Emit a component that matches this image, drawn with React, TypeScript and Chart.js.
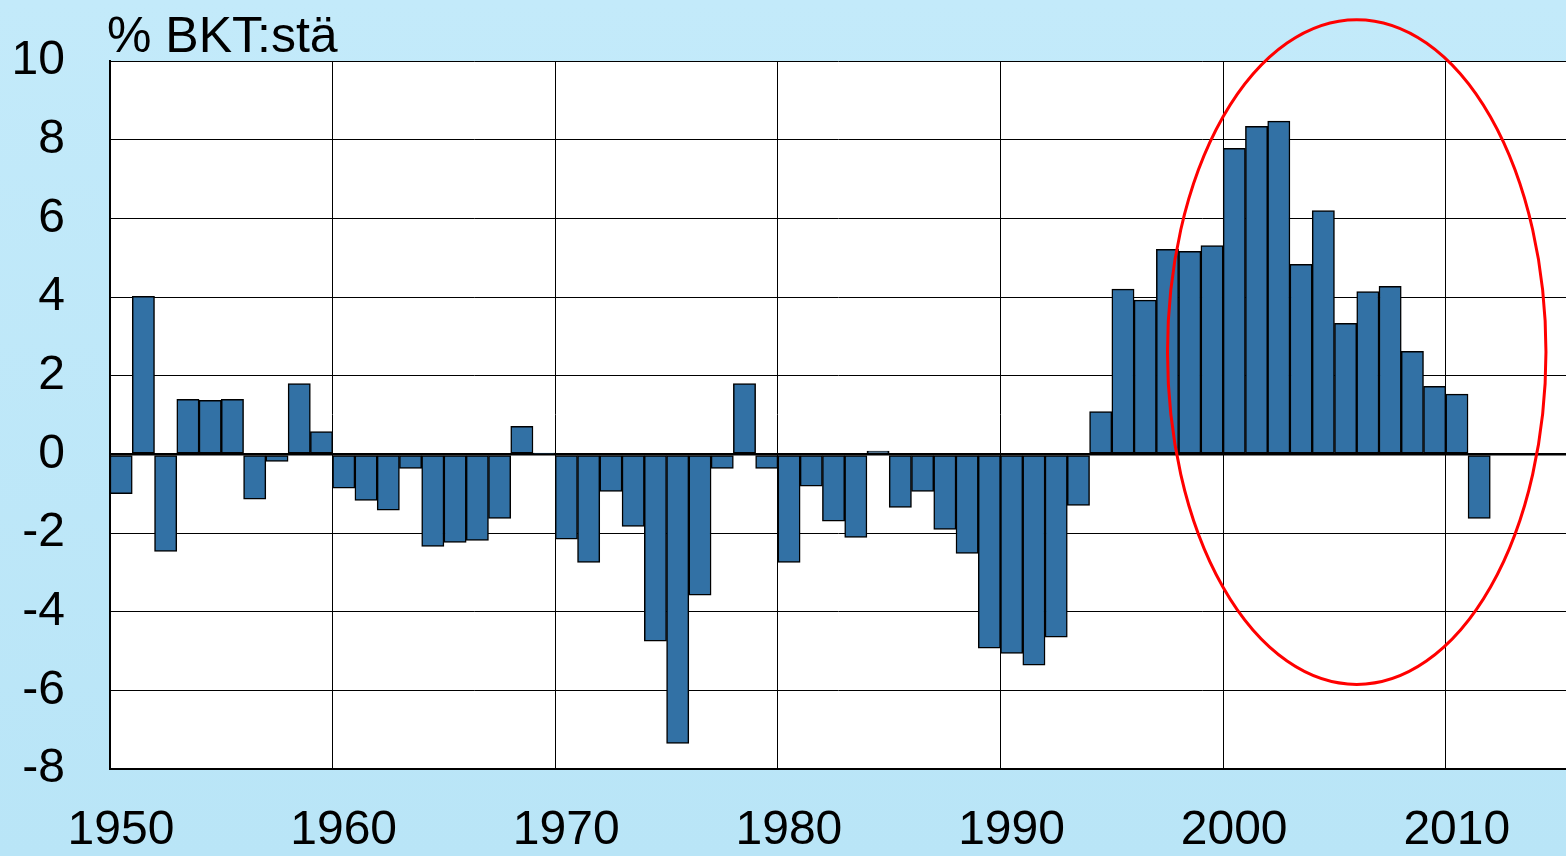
import React, { useEffect, useRef } from "react";
import { Chart, registerables } from "chart.js";

Chart.register(...registerables);

// Years 1950 ... 2011 (one bar per year)
const START_YEAR = 1950;
const BALANCE_VALUES: number[] = [
  -1.0, 4.02, -2.47, 1.4, 1.37, 1.4, -1.14, -0.18, 1.8, 0.58,
  -0.86, -1.17, -1.42, -0.36, -2.34, -2.24, -2.19, -1.63, 0.71, 0.03,
  -2.16, -2.75, -0.94, -1.83, -4.75, -7.35, -3.58, -0.36, 1.8, -0.36,
  -2.75, -0.81, -1.7, -2.11, 0.08, -1.35, -0.94, -1.91, -2.52, -4.93,
  -5.06, -5.36, -4.65, -1.3, 1.09, 4.2, 3.92, 5.21, 5.16, 5.31,
  7.78, 8.34, 8.47, 4.83, 6.2, 3.33, 4.14, 4.27, 2.62, 1.73,
  1.53, -1.63,
];
const YEARS: number[] = BALANCE_VALUES.map((_, i) => START_YEAR + i);
const X_TICKS: number[] = [1950, 1960, 1970, 1980, 1990, 2000, 2010];
const X_MIN = 1950;
const X_MAX = 2015.4;
const Y_MIN = -8;
const Y_MAX = 10;
const Y_STEP = 2;
const UNIT_LABEL = "% BKT:stä";

// Red highlight ellipse (in data units)
const ELLIPSE_CENTER_YEAR = 2006;
const ELLIPSE_CENTER_VALUE = 2.6;
const ELLIPSE_HALF_WIDTH_YEARS = 8.5;
const ELLIPSE_HALF_HEIGHT_VALUE = 8.45;

const FONT_FAMILY = "'Liberation Sans', Arial, sans-serif";
const BAR_COLOR = "#3271a5";

const W = 1566;
const H = 856;

export default function App() {
  const ref = useRef<HTMLCanvasElement | null>(null);

  useEffect(() => {
    document.body.style.margin = "0";
    const canvas = ref.current;
    if (!canvas) return;

    const backgroundPlugin = {
      id: "bgPlugin",
      beforeDraw(chart: any) {
        const { ctx, chartArea } = chart;
        ctx.save();
        const g = ctx.createLinearGradient(0, 0, 0, H);
        g.addColorStop(0, "#c3eafa");
        g.addColorStop(1, "#b9e5f7");
        ctx.fillStyle = g;
        ctx.fillRect(0, 0, W, H);
        ctx.fillStyle = "#ffffff";
        ctx.fillRect(
          chartArea.left,
          chartArea.top,
          chartArea.right - chartArea.left,
          chartArea.bottom - chartArea.top
        );
        ctx.restore();
      },
    };

    const overlayPlugin = {
      id: "overlayPlugin",
      afterDraw(chart: any) {
        const { ctx, chartArea, scales } = chart;
        const xs = scales.x;
        const ys = scales.y;
        ctx.save();
        // unit label
        ctx.fillStyle = "#000";
        ctx.font = `50px ${FONT_FAMILY}`;
        ctx.textAlign = "left";
        ctx.textBaseline = "alphabetic";
        ctx.fillText(UNIT_LABEL, chartArea.left - 3, chartArea.top - 9);
        // ellipse
        const cx = xs.getPixelForValue(ELLIPSE_CENTER_YEAR);
        const cy = ys.getPixelForValue(ELLIPSE_CENTER_VALUE);
        const rx = Math.abs(
          xs.getPixelForValue(ELLIPSE_CENTER_YEAR + ELLIPSE_HALF_WIDTH_YEARS) - cx
        );
        const ry = Math.abs(
          ys.getPixelForValue(ELLIPSE_CENTER_VALUE + ELLIPSE_HALF_HEIGHT_VALUE) - cy
        );
        ctx.beginPath();
        ctx.ellipse(cx, cy, rx, ry, 0, 0, Math.PI * 2);
        ctx.strokeStyle = "#ff0000";
        ctx.lineWidth = 3;
        ctx.stroke();
        ctx.restore();
      },
    };

    const chart = new Chart(canvas, {
      type: "bar",
      data: {
        datasets: [
          {
            data: YEARS.map((y, i) => ({ x: y + 0.5, y: BALANCE_VALUES[i] })),
            backgroundColor: BAR_COLOR,
            borderColor: "#000000",
            borderWidth: 1.5,
            borderSkipped: false,
            barPercentage: 1,
            categoryPercentage: 1,
          },
        ],
      },
      options: {
        responsive: false,
        animation: false,
        events: [],
        layout: { padding: { top: 61, right: 0, bottom: 0, left: 0 } },
        plugins: {
          legend: { display: false },
          tooltip: { enabled: false },
          title: { display: false },
        },
        scales: {
          x: {
            type: "linear",
            min: X_MIN,
            max: X_MAX,
            offset: false,
            afterBuildTicks: (scale: any) => {
              scale.ticks = X_TICKS.map((v) => ({ value: v }));
            },
            afterFit: (scale: any) => {
              scale.height = 87;
              scale.paddingLeft = 0;
              scale.paddingRight = 0;
            },
            grid: {
              offset: false,
              color: "#000000",
              lineWidth: 1,
              drawTicks: false,
            },
            border: { display: true, color: "#000000", width: 2 },
            ticks: {
              color: "#000000",
              font: { family: FONT_FAMILY, size: 48 },
              padding: 33,
              labelOffset: 11,
              maxRotation: 0,
              autoSkip: false,
              callback: (v: any) => String(v),
            },
          },
          y: {
            min: Y_MIN,
            max: Y_MAX,
            afterFit: (scale: any) => {
              scale.width = 110;
              scale.paddingTop = 0;
              scale.paddingBottom = 0;
            },
            grid: {
              color: "#000000",
              lineWidth: (c: any) => (c.tick && c.tick.value === 0 ? 2.5 : 1),
              drawTicks: false,
            },
            border: { display: true, color: "#000000", width: 2 },
            ticks: {
              stepSize: Y_STEP,
              color: "#000000",
              font: { family: FONT_FAMILY, size: 48 },
              padding: 45,
            },
          },
        },
      },
      plugins: [backgroundPlugin, overlayPlugin],
    });

    return () => chart.destroy();
  }, []);

  return (
    <div style={{ position: "absolute", left: 0, top: 0, width: W, height: H }}>
      <canvas ref={ref} width={W} height={H} style={{ display: "block" }} />
    </div>
  );
}
